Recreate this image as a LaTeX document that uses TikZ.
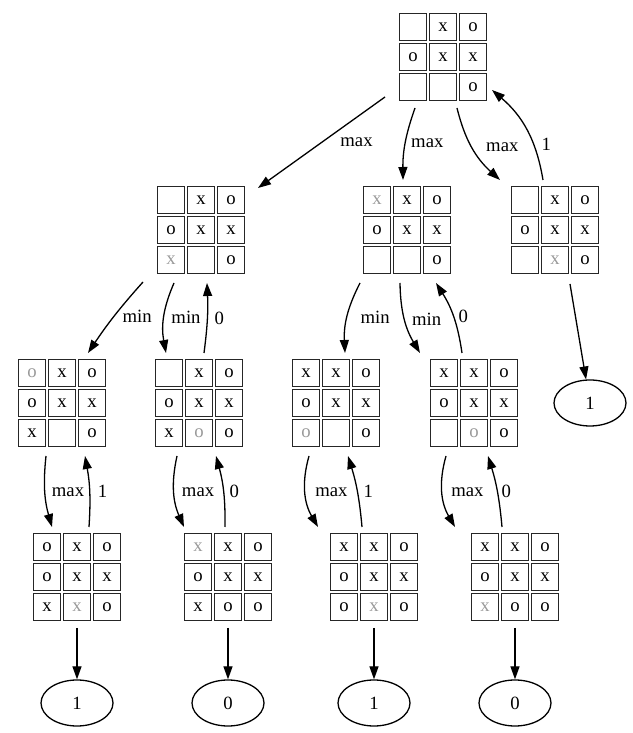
\documentclass[tikz,border=0pt]{standalone}
\usepackage{fontspec}
\setmainfont{Liberation Serif}
\usetikzlibrary{arrows.meta, calc, shapes.geometric}

% last move of a position, set in gray
\newcommand{\played}[1]{\textcolor{black!40}{#1}}
% board: name, centre, nine cells row by row
\newcommand{\board}[3]{%
  \node[boardbox] (#1) at (#2) {};
  \foreach \cellv [count=\ci from 0] in {#3} {%
    \pgfmathtruncatemacro{\brow}{div(\ci,3)}%
    \pgfmathtruncatemacro{\bcol}{mod(\ci,3)}%
    \path (#1) ++(30*\bcol-30, 30-30*\brow) node[cell] (#1-\ci) {\cellv};
  }%
}

\begin{document}
\begin{tikzpicture}[x=1pt, y=1pt, >={Triangle[length=13pt, width=9pt]},
    % Node Styles
    boardbox/.style={rectangle, minimum size=88pt, inner sep=0pt},
    cell/.style={rectangle, draw=black!85, line width=1.4pt, minimum size=27pt, inner sep=0pt, font=\fontsize{18.7}{22}\selectfont},
    leaf/.style={ellipse, draw, line width=1.3pt, minimum width=72pt, minimum height=46pt, inner sep=0pt, font=\fontsize{18.7}{22}\selectfont},
    lbl/.style={inner sep=0pt, font=\fontsize{18.7}{22}\selectfont},
    mvarrow/.style={->, line width=1.3pt}
  ]
  \useasboundingbox (0,0) rectangle (632,733);

  % --- Positions ---
  \board{root}{443,676}{{},x,o,o,x,x,{},{},o}
  \board{pL}{201,503}{{},x,o,o,x,x,\played{x},{},o}
  \board{pM}{407,503}{\played{x},x,o,o,x,x,{},{},o}
  \board{pR}{555,503}{{},x,o,o,x,x,{},\played{x},o}

  \board{pLL}{62,330}{\played{o},x,o,o,x,x,x,{},o}
  \board{pLM}{199,330}{{},x,o,o,x,x,x,\played{o},o}
  \board{pML}{336,330}{x,x,o,o,x,x,\played{o},{},o}
  \board{pMM}{474,330}{x,x,o,o,x,x,{},\played{o},o}

  \board{pLLL}{77,156}{o,x,o,o,x,x,x,\played{x},o}
  \board{pLML}{228,156}{\played{x},x,o,o,x,x,x,o,o}
  \board{pMLL}{374,156}{x,x,o,o,x,x,o,\played{x},o}
  \board{pMML}{515,156}{x,x,o,o,x,x,\played{x},o,o}

  % --- Values ---
  \node[leaf] (vR) at (590,330) {1};
  \node[leaf] (vLLL) at (77,30) {1};
  \node[leaf] (vLML) at (228,30) {0};
  \node[leaf] (vMLL) at (374,30) {1};
  \node[leaf] (vMML) at (515,30) {0};

  % --- Moves from the root ---
  \draw[mvarrow] ($(root)+(-58,-40)$) -- node[lbl, xshift=35pt] {max} ($(pL)+(57,42)$);
  \draw[mvarrow] ($(root)+(-28,-51)$) to[bend right=10] node[lbl, xshift=22pt] {max} ($(pM)+(-4,50)$);
  \draw[mvarrow] ($(root)+(14,-51)$) to[bend right=17] node[lbl, xshift=30pt] {max} ($(pR)+(-55,50)$);
  \draw[mvarrow] ($(pR)+(-12,50)$) to[bend right=20] node[lbl, pos=0.34, xshift=13pt] {1} ($(root)+(49,-33)$);
  \draw[mvarrow] ($(pR)+(15,-54)$) -- (vR);

  % --- Level 1 to level 2 ---
  \draw[mvarrow] ($(pL)+(-58,-52)$) to[bend right=4] node[lbl, xshift=23pt] {min} ($(pLL)+(26,50)$);
  \draw[mvarrow] ($(pL)+(-27,-53)$) to[bend right=17] node[lbl, xshift=22pt] {min} ($(pLM)+(-33,50)$);
  \draw[mvarrow] ($(pLM)+(5,50)$) to[bend right=5] node[lbl, xshift=12pt] {0} ($(pL)+(6,-53)$);
  \draw[mvarrow] ($(pM)+(-47,-53)$) to[bend right=15] node[lbl, xshift=28pt] {min} ($(pML)+(9,50)$);
  \draw[mvarrow] ($(pM)+(-7,-53)$) to[bend right=15] node[lbl, xshift=22pt] {min} ($(pMM)+(-54,50)$);
  \draw[mvarrow] ($(pMM)+(-12,50)$) to[bend right=12] node[lbl, xshift=10pt] {0} ($(pM)+(29,-53)$);

  % --- Level 2 to level 3 ---
  \draw[mvarrow] ($(pLL)+(-16,-53)$) to[bend right=11] node[lbl, xshift=23pt] {max} ($(pLLL)+(-25,50)$);
  \draw[mvarrow] ($(pLLL)+(12,50)$) to[bend right=7] node[lbl, xshift=13pt] {1} ($(pLL)+(23,-53)$);
  \draw[mvarrow] ($(pLM)+(-22,-53)$) to[bend right=18] node[lbl, xshift=24pt] {max} ($(pLML)+(-44,50)$);
  \draw[mvarrow] ($(pLML)+(-3,50)$) to[bend right=8] node[lbl, xshift=11pt] {0} ($(pLM)+(17,-53)$);
  \draw[mvarrow] ($(pML)+(-27,-53)$) to[bend right=23] node[lbl, xshift=26pt] {max} ($(pMLL)+(-56,50)$);
  \draw[mvarrow] ($(pMLL)+(-12,50)$) to[bend right=6] node[lbl, xshift=11pt] {1} ($(pML)+(12,-53)$);
  \draw[mvarrow] ($(pMM)+(-28,-53)$) to[bend right=23] node[lbl, xshift=25pt] {max} ($(pMML)+(-60,50)$);
  \draw[mvarrow] ($(pMML)+(-13,50)$) to[bend right=6] node[lbl, xshift=9pt] {0} ($(pMM)+(14,-53)$);

  % --- Level 3 to values ---
  \draw[mvarrow] ($(pLLL)+(0,-51)$) -- (vLLL);
  \draw[mvarrow] ($(pLML)+(0,-51)$) -- (vLML);
  \draw[mvarrow] ($(pMLL)+(0,-51)$) -- (vMLL);
  \draw[mvarrow] ($(pMML)+(0,-51)$) -- (vMML);
\end{tikzpicture}
\end{document}
